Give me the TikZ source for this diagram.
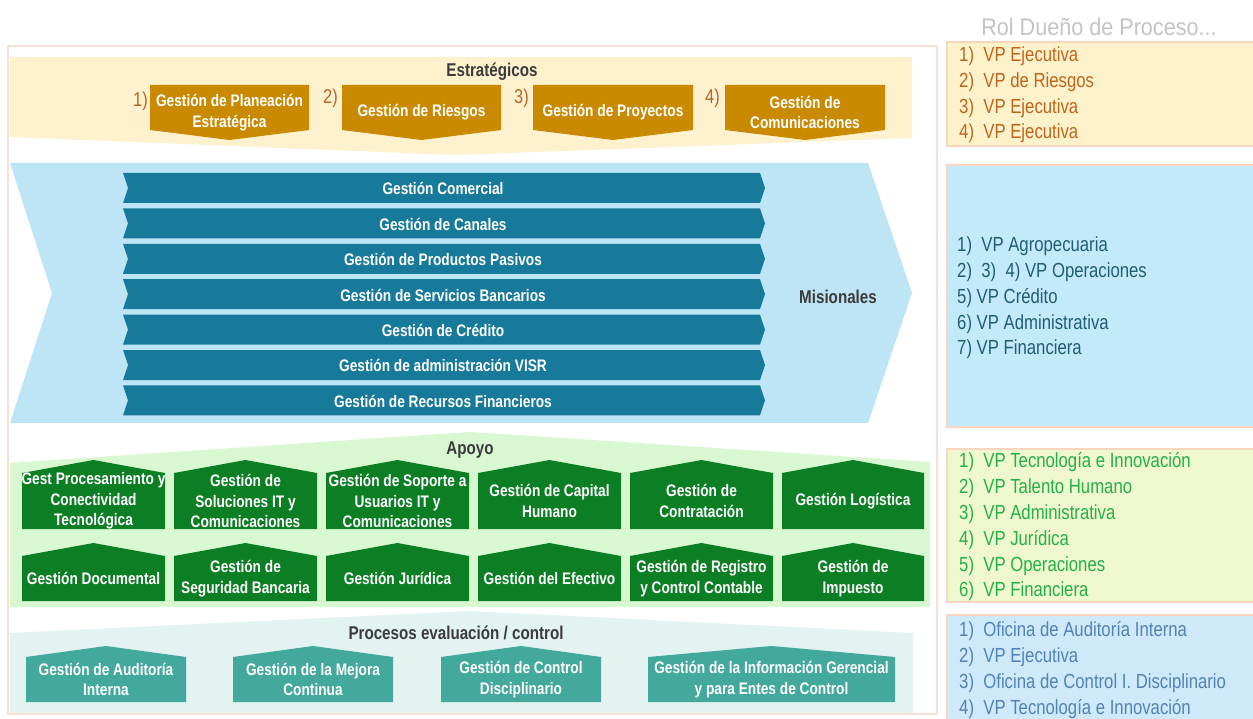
\documentclass[tikz,border=0pt]{standalone}
\usepackage{fontspec}
\setmainfont{Liberation Sans}[FakeStretch=0.82]
\newfontfamily\titlefont{Liberation Sans}[FakeStretch=0.9]
\definecolor{framecol}{HTML}{F9E0D0}
\definecolor{estband}{HTML}{FEF1CE}
\definecolor{estbox}{HTML}{C98A00}
\definecolor{numcol}{HTML}{B4652A}
\definecolor{misband}{HTML}{BEE5F5}
\definecolor{misbar}{HTML}{177A9A}
\definecolor{apoband}{HTML}{D8F8D2}
\definecolor{apobox}{HTML}{0C7E24}
\definecolor{evaband}{HTML}{E2F3F2}
\definecolor{evabox}{HTML}{42A99C}
\definecolor{headcol}{HTML}{3B3B3B}
\definecolor{rbord}{HTML}{F9D5BE}
\definecolor{rAfill}{HTML}{FEF2CB}
\definecolor{rAtext}{HTML}{C0651E}
\definecolor{rBfill}{HTML}{C3EAFA}
\definecolor{rBtext}{HTML}{215E72}
\definecolor{rCfill}{HTML}{EEF7CD}
\definecolor{rCtext}{HTML}{25B04A}
\definecolor{rDfill}{HTML}{CEE9FA}
\definecolor{rDtext}{HTML}{5482B4}
\definecolor{titlecol}{HTML}{C4C4C4}
\newcommand\mkdown[7]{%
  \fill[estbox] (#2,#4) -- (#3,#4) -- (#3,#5) -- ({(#2+#3)/2},#6) -- (#2,#5) -- cycle;
  \node[btxt] (#1) at ({(#2+#3)/2},{(#4+#6)/2}) {#7};}
\newcommand\mkhouse[8]{%
  \fill[#7] (#2,#6) -- (#2,#5) -- ({(#2+#3)/2},#4) -- (#3,#5) -- (#3,#6) -- cycle;
  \node[btxt] (#1) at ({(#2+#3)/2},{(#5+#6)/2}) {#8};}
\begin{document}
\begin{tikzpicture}[x=1pt,y=-1pt,
  btxt/.style={text=white,font=\bfseries\fontsize{16.7}{20.5}\selectfont,align=center,inner sep=0pt},
  headtxt/.style={text=headcol,font=\bfseries\fontsize{18.5}{22}\selectfont,inner sep=0pt},
  numtxt/.style={text=numcol,font=\fontsize{20}{24}\selectfont,inner sep=0pt,anchor=east},
  rtxt/.style={font=\fontsize{20.4}{25.8}\selectfont,align=left,inner sep=0pt,anchor=west},
  rbox/.style={draw=rbord,line width=1.2pt}]
\useasboundingbox (0,0) rectangle (1253,719);
\fill[white] (0,0) rectangle (1253,719);
% frame
\draw[framecol,line width=1.2pt] (8,46) rectangle (937,714);
% Estrategicos
\fill[estband] (10,57) -- (912,57) -- (912,138) -- (455,155) -- (10,137) -- cycle;
\node[headtxt] (est) at (492,72) {Estratégicos};
\mkdown{e1}{150}{309}{85}{130}{140}{Gestión de Planeación\\Estratégica}
\mkdown{e2}{342}{501}{85}{130}{140}{Gestión de Riesgos}
\mkdown{e3}{533}{693}{85}{130}{140}{Gestión de Proyectos}
\mkdown{e4}{725}{885}{85}{130}{140}{Gestión de\\Comunicaciones}
\node[numtxt] (n1) at (148,101) {1)};
\node[numtxt] (n2) at (338,98) {2)};
\node[numtxt] (n3) at (529,98) {3)};
\node[numtxt] (n4) at (720,98) {4)};
% Misionales
\fill[misband] (10,163) -- (868,163) -- (912,293) -- (868,423) -- (10,423) -- (52,293) -- cycle;
\foreach \i/\t in {0/Gestión Comercial,1/Gestión de Canales,2/Gestión de Productos Pasivos,3/Gestión de Servicios Bancarios,4/Gestión de Crédito,5/Gestión de administración VISR,6/Gestión de Recursos Financieros}{
  \pgfmathsetmacro\yt{173+35.4*\i}
  \pgfmathsetmacro\yb{\yt+30}
  \pgfmathsetmacro\yc{\yt+15}
  \fill[misbar] (123,\yt) -- (760,\yt) -- (765,\yc) -- (760,\yb) -- (123,\yb) -- (128,\yc) -- cycle;
  \node[btxt] (m\i) at (443,\yc+0.8) {\t};
}
\node[headtxt] (mis) at (838,297) {Misionales};
% Apoyo
\fill[apoband] (10,463) -- (470,432) -- (930,462) -- (930,607) -- (10,607) -- cycle;
\node[headtxt] (apo) at (470,450) {Apoyo};
\mkhouse{a1}{22}{165}{460}{473}{529}{apobox}{Gest Procesamiento y\\Conectividad\\Tecnológica}
\mkhouse{a2}{174}{317}{460}{473}{529}{apobox}{Gestión de\\Soluciones IT y\\Comunicaciones}
\mkhouse{a3}{326}{469}{460}{473}{529}{apobox}{Gestión de Soporte a\\Usuarios IT y\\Comunicaciones}
\mkhouse{a4}{478}{621}{460}{473}{529}{apobox}{Gestión de Capital\\Humano}
\mkhouse{a5}{630}{773}{460}{473}{529}{apobox}{Gestión de\\Contratación}
\mkhouse{a6}{782}{924}{460}{473}{529}{apobox}{Gestión Logística}
\mkhouse{a7}{22}{165}{543}{556}{601}{apobox}{Gestión Documental}
\mkhouse{a8}{174}{317}{543}{556}{601}{apobox}{Gestión de\\Seguridad Bancaria}
\mkhouse{a9}{326}{469}{543}{556}{601}{apobox}{Gestión Jurídica}
\mkhouse{a10}{478}{621}{543}{556}{601}{apobox}{Gestión del Efectivo}
\mkhouse{a11}{630}{773}{543}{556}{601}{apobox}{Gestión de Registro\\y Control Contable}
\mkhouse{a12}{782}{924}{543}{556}{601}{apobox}{Gestión de\\Impuesto}
% Evaluacion
\fill[evaband] (10,633) -- (470,611) -- (913,633) -- (913,713) -- (10,713) -- cycle;
\node[headtxt] (eva) at (456,633) {Procesos evaluación / control};
\mkhouse{c1}{26}{186}{646}{657}{702}{evabox}{Gestión de Auditoría\\Interna}
\mkhouse{c2}{233}{393}{646}{657}{702}{evabox}{Gestión de la Mejora\\Continua}
\mkhouse{c3}{441}{601}{646}{657}{702}{evabox}{Gestión de Control\\Disciplinario}
\mkhouse{c4}{648}{895}{646}{657}{702}{evabox}{Gestión de la Información Gerencial\\y para Entes de Control}
% Right column
\node[text=titlecol,font=\titlefont\fontsize{24}{28}\selectfont,inner sep=0pt] (title) at (1099,27) {Rol Dueño de Proceso...};
\draw[rbox,fill=rAfill] (947,42) rectangle (1262,146);
\node[rtxt,text=rAtext] (rA) at (959,95) {1)\ \ VP Ejecutiva\\2)\ \ VP de Riesgos\\3)\ \ VP Ejecutiva\\4)\ \ VP Ejecutiva};
\draw[rbox,fill=rBfill] (947,165) rectangle (1262,427);
\node[rtxt,text=rBtext] (rB) at (957,298) {1)\ \ VP Agropecuaria\\2)\ \ 3)\ \ 4) VP Operaciones\\5) VP Crédito\\6) VP Administrativa\\7) VP Financiera};
\draw[rbox,fill=rCfill] (947,449) rectangle (1262,602);
\node[rtxt,text=rCtext] (rC) at (959,527) {1)\ \ VP Tecnología e Innovación\\2)\ \ VP Talento Humano\\3)\ \ VP Administrativa\\4)\ \ VP Jurídica\\5)\ \ VP Operaciones\\6)\ \ VP Financiera};
\draw[rbox,fill=rDfill] (947,615) rectangle (1262,730);
\node[rtxt,text=rDtext] (rD) at (959,670) {1)\ \ Oficina de Auditoría Interna\\2)\ \ VP Ejecutiva\\3)\ \ Oficina de Control I. Disciplinario\\4)\ \ VP Tecnología e Innovación};
\end{tikzpicture}
\end{document}
